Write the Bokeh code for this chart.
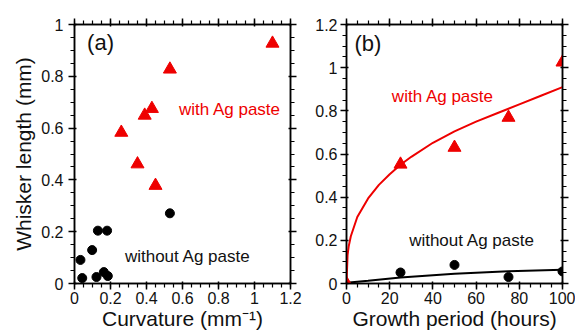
from bokeh.plotting import figure
from bokeh.layouts import row
from bokeh.models import LinearAxis, CustomJSTickFormatter, Range1d
from bokeh.core.properties import value
from bokeh.embed import file_html
from bokeh.resources import INLINE

# ---- panel (a): whisker length vs curvature ----
curv_with = [0.26, 0.35, 0.39, 0.43, 0.45, 0.53, 1.10]
len_with_a = [0.583, 0.461, 0.649, 0.675, 0.378, 0.827, 0.927]
curv_without = [0.033, 0.043, 0.098, 0.130, 0.181, 0.122, 0.163, 0.185, 0.530]
len_without_a = [0.091, 0.021, 0.129, 0.204, 0.204, 0.025, 0.044, 0.029, 0.271]

# ---- panel (b): whisker length vs growth period ----
hours = [0, 25, 50, 75, 100]
len_with_b = [0.0, 0.552, 0.630, 0.769, 1.025]
hours_without = [25, 50, 75, 100]
len_without_b = [0.051, 0.086, 0.030, 0.056]
fit_with_t = [0, 0.5, 1, 2, 5, 10, 15, 20, 25, 30, 40, 50, 60, 70, 80, 90, 100]
fit_with_y = [0.0, 0.133, 0.171, 0.219, 0.308, 0.394, 0.457, 0.506, 0.550,
              0.587, 0.652, 0.705, 0.750, 0.790, 0.830, 0.870, 0.910]
fit_without_t = [0, 10, 25, 50, 75, 100]
fit_without_y = [0.004, 0.013, 0.028, 0.045, 0.057, 0.064]

# axis extents and number of major ticks
xa_range = (0, 1.2000001)
ya_range = (0, 1.0000001)
xb_range = (0, 100.00001)
yb_range = (0, 1.2000001)
xa_n, ya_n, xb_n, yb_n = 7, 6, 6, 7

RED = "#ee0000"
FONT = "Liberation Sans"
fmt_code = "return tick.toFixed(2).replace(/\\.?0+$/, '')"


def style_axis(ax, n, labels=True):
    ax.ticker.desired_num_ticks = n
    ax.ticker.num_minor_ticks = 4
    ax.axis_line_color = "black"
    ax.axis_line_width = 1.5
    ax.major_tick_line_color = "black"
    ax.minor_tick_line_color = "black"
    ax.major_tick_line_width = 1.5
    ax.minor_tick_line_width = 1.2
    ax.major_label_text_font = FONT
    ax.major_label_text_color = "#111111"
    ax.major_label_text_font_size = "16px"
    ax.axis_label_text_font = FONT
    ax.axis_label_text_font_style = "normal"
    ax.axis_label_text_font_size = "21px"
    ax.axis_label_text_color = "#111111"
    if labels:
        ax.formatter = CustomJSTickFormatter(code=fmt_code)
        ax.major_label_standoff = 4
    else:
        ax.formatter = CustomJSTickFormatter(code="return ''")
        ax.major_label_standoff = 0


def make_fig(width, xr, yr, xn, yn, bl, br):
    p = figure(width=width, height=333, output_backend="svg", toolbar_location=None,
               x_range=Range1d(*xr), y_range=Range1d(*yr),
               min_border_left=bl, min_border_right=br, min_border_top=24,
               min_border_bottom=50)
    p.xgrid.visible = False
    p.ygrid.visible = False
    p.outline_line_color = "black"
    p.outline_line_width = 1.5
    bottom = p.below[0]
    left = p.left[0]
    style_axis(bottom, xn)
    style_axis(left, yn)
    bottom.axis_label_standoff = 0
    bottom.major_label_standoff = 2
    top = LinearAxis()
    style_axis(top, xn, labels=False)
    p.add_layout(top, "above")
    right = LinearAxis()
    style_axis(right, yn, labels=False)
    p.add_layout(right, "right")
    return p, bottom, left


# ---- figure (a) ----
p1, b1, l1 = make_fig(304, xa_range, ya_range, xa_n, ya_n, 74, 14)
b1.axis_label = "Curvature (mm\u207b\u00b9)"
l1.axis_label = "Whisker length (mm)"
l1.major_label_standoff = 5
l1.axis_label_standoff = 3
p1.scatter(curv_without, len_without_a, marker="circle", size=9,
           fill_color="black", line_color="black")
p1.scatter(curv_with, len_with_a, marker="triangle", size=13,
           fill_color=RED, line_color=RED)
p1.text(x=[0.07], y=[0.93], text=["(a)"], text_font=value(FONT),
        text_font_size="22px", text_baseline="middle", text_color="#111111")
p1.text(x=[0.58], y=[0.67], text=["with Ag paste"], text_font=value(FONT),
        text_font_size="17px", text_baseline="middle", text_color=RED)
p1.text(x=[0.28], y=[0.105], text=["without Ag paste"], text_font=value(FONT),
        text_font_size="17px", text_baseline="middle", text_color="#111111")

# ---- figure (b) ----
p2, b2, l2 = make_fig(271, xb_range, yb_range, xb_n, yb_n, 42, 13)
b2.axis_label = "Growth period (hours)"
l2.major_label_standoff = 3
p2.line(fit_with_t, fit_with_y, line_color=RED, line_width=2)
p2.line(fit_without_t, fit_without_y, line_color="black", line_width=2)
p2.scatter(hours_without, len_without_b, marker="circle", size=9,
           fill_color="black", line_color="black")
p2.scatter(hours, len_with_b, marker="triangle", size=13,
           fill_color=RED, line_color=RED)
p2.text(x=[3.7], y=[1.11], text=["(b)"], text_font=value(FONT),
        text_font_size="22px", text_baseline="middle", text_color="#111111")
p2.text(x=[21], y=[0.867], text=["with Ag paste"], text_font=value(FONT),
        text_font_size="17px", text_baseline="middle", text_color=RED)
p2.text(x=[29], y=[0.2], text=["without Ag paste"], text_font=value(FONT),
        text_font_size="17px", text_baseline="middle", text_color="#111111")

layout = row(p1, p2)
open("out.html", "w").write(file_html(layout, INLINE))
